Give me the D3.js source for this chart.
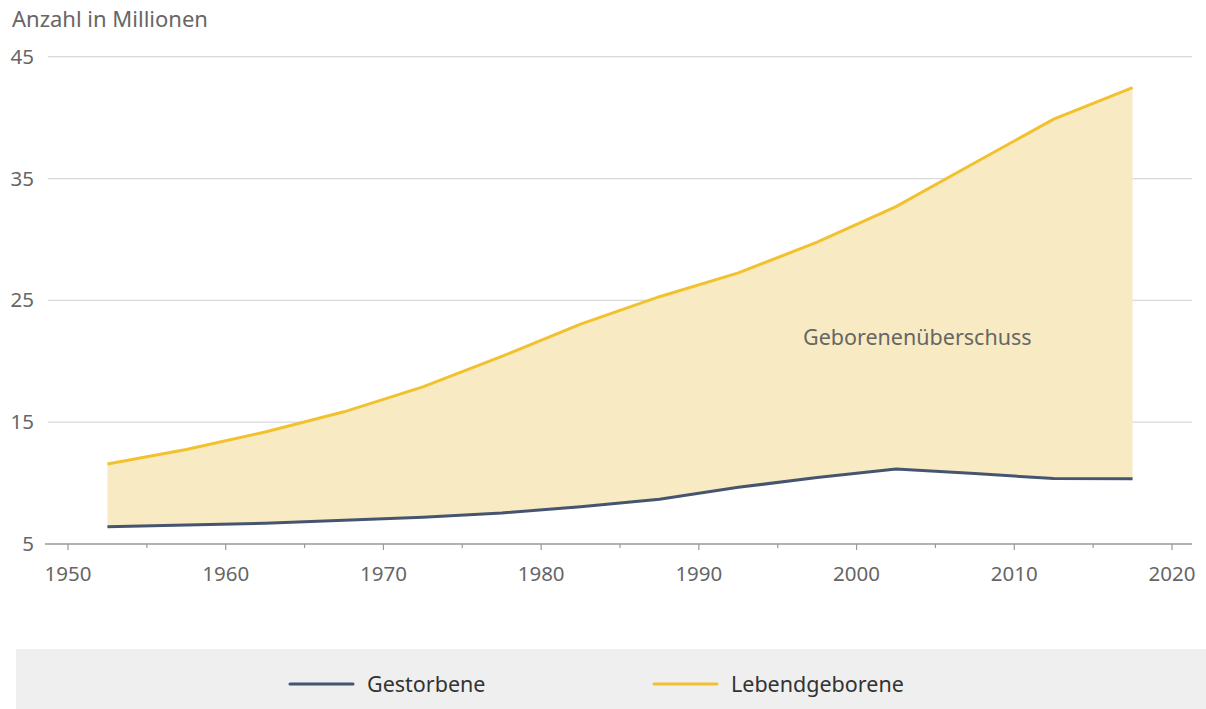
<!DOCTYPE html>
<html>
<head>
<meta charset="utf-8">
<script src="https://cdn.jsdelivr.net/npm/d3@7"></script>
<style>
  body { margin: 0; background: #fff; }
  svg { display: block; font-family: "Noto Sans", "Open Sans", sans-serif; }
</style>
</head>
<body>
<div id="vis"></div>
<script>
const WIDTH = 1206;
const HEIGHT = 709;

// Mitte der Fünfjahreszeiträume
const YEARS = [1952.5, 1957.5, 1962.5, 1967.5, 1972.5, 1977.5, 1982.5, 1987.5,
               1992.5, 1997.5, 2002.5, 2007.5, 2012.5, 2017.5];
const LEBENDGEBORENE = [11.57, 12.75, 14.2, 15.85, 17.9, 20.4, 23.05, 25.3,
                        27.26, 29.77, 32.69, 36.3, 39.87, 42.46];
const GESTORBENE = [6.42, 6.55, 6.7, 6.95, 7.2, 7.55, 8.05, 8.67,
                    9.65, 10.46, 11.16, 10.78, 10.37, 10.36];
const Y_TICKS = [5, 15, 25, 35, 45];
const X_TICKS = [1950, 1960, 1970, 1980, 1990, 2000, 2010, 2020];
const X_MINOR = [1955, 1965, 1975, 1985, 1995, 2005, 2015];
const LEGEND = [{name: "Gestorbene", color: "#46556f"},
                {name: "Lebendgeborene", color: "#f2c12e"}];

const data = YEARS.map((y, i) => ({year: y, born: LEBENDGEBORENE[i], died: GESTORBENE[i]}));

const FRAME = d3.select("#vis")
    .append("svg")
      .attr("width", WIDTH)
      .attr("height", HEIGHT);

const X_SCALE = d3.scaleLinear().domain([1950, 2020]).range([68, 1172]);
const Y_SCALE = d3.scaleLinear().domain([5, 45]).range([544, 56.7]);

// Gitternetz
FRAME.selectAll(".grid")
    .data(Y_TICKS.filter(d => d > 5))
    .enter()
    .append("line")
      .attr("x1", 48).attr("x2", 1192)
      .attr("y1", d => Y_SCALE(d)).attr("y2", d => Y_SCALE(d))
      .attr("stroke", "#d9d9d9").attr("stroke-width", 1.2);

FRAME.selectAll(".ylab")
    .data(Y_TICKS)
    .enter()
    .append("text")
      .attr("x", 34)
      .attr("y", d => Y_SCALE(d) + 7)
      .attr("text-anchor", "end")
      .attr("font-size", 20.5)
      .attr("fill", "#666")
      .text(d => d);

FRAME.append("text")
    .attr("x", 12).attr("y", 27)
    .attr("font-size", 22)
    .attr("fill", "#666")
    .text("Anzahl in Millionen");

// Fläche Geborenenüberschuss
FRAME.append("path")
    .datum(data)
    .attr("fill", "#f8ebc3")
    .attr("d", d3.area()
        .x(d => X_SCALE(d.year))
        .y0(d => Y_SCALE(d.died))
        .y1(d => Y_SCALE(d.born)));

// x-Achse
const xAxis = FRAME.append("g")
    .attr("transform", "translate(0,544)");
xAxis.append("line")
    .attr("x1", 45).attr("x2", 1192)
    .attr("stroke", "#999").attr("stroke-width", 1.5);
xAxis.selectAll(".tick")
    .data(X_TICKS.concat(X_MINOR))
    .enter()
    .append("line")
      .attr("x1", d => X_SCALE(d)).attr("x2", d => X_SCALE(d))
      .attr("y1", 0).attr("y2", d => d % 10 === 0 ? 6 : 4)
      .attr("stroke", "#999").attr("stroke-width", 1.2);
xAxis.selectAll(".xlab")
    .data(X_TICKS)
    .enter()
    .append("text")
      .attr("x", d => X_SCALE(d))
      .attr("y", 37)
      .attr("text-anchor", "middle")
      .attr("font-size", 20.5)
      .attr("fill", "#666")
      .text(d => d);

// Linien
FRAME.append("path")
    .datum(data)
    .attr("fill", "none")
    .attr("stroke", "#46556f")
    .attr("stroke-width", 3)
    .attr("d", d3.line().x(d => X_SCALE(d.year)).y(d => Y_SCALE(d.died)));

FRAME.append("path")
    .datum(data)
    .attr("fill", "none")
    .attr("stroke", "#f2c12e")
    .attr("stroke-width", 3)
    .attr("d", d3.line().x(d => X_SCALE(d.year)).y(d => Y_SCALE(d.born)));

FRAME.append("text")
    .attr("x", 803).attr("y", 345)
    .attr("font-size", 21.5)
    .attr("fill", "#666")
    .text("Geborenenüberschuss");

// Legende
FRAME.append("rect")
    .attr("x", 16).attr("y", 649)
    .attr("width", WIDTH - 16).attr("height", HEIGHT - 649)
    .attr("fill", "#efefef");

const LEG_X = [290, 654];
const legend = FRAME.selectAll(".legend")
    .data(LEGEND)
    .enter()
    .append("g")
      .attr("transform", (d, i) => "translate(" + LEG_X[i] + ",684)");
legend.append("line")
    .attr("x1", 0).attr("x2", 63)
    .attr("stroke", d => d.color)
    .attr("stroke-width", 3)
    .attr("stroke-linecap", "round");
legend.append("text")
    .attr("x", 77).attr("y", 8)
    .attr("font-size", 21.5)
    .attr("fill", "#333")
    .text(d => d.name);
</script>
</body>
</html>
